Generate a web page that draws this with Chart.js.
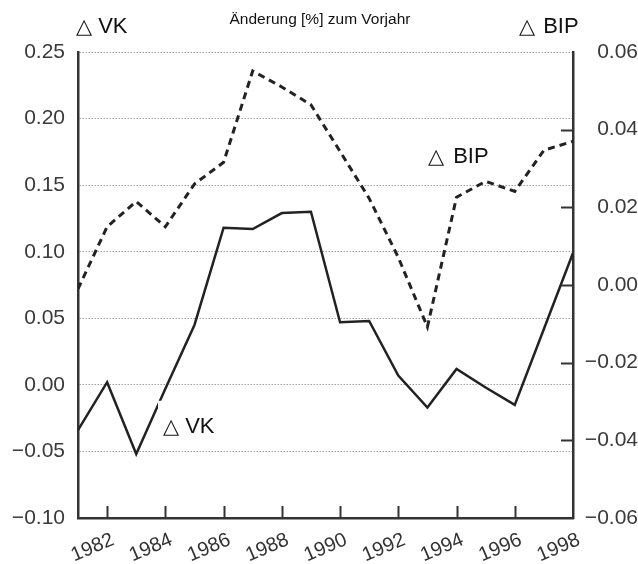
<!DOCTYPE html>
<html>
<head>
<meta charset="utf-8">
<script src="https://cdn.jsdelivr.net/npm/chart.js@4"></script>
<style>
  html, body { margin: 0; padding: 0; background: #fff; }
  #wrap { width: 638px; height: 564px; }
</style>
</head>
<body>
<div id="wrap"><canvas id="chart" width="638" height="564"></canvas></div>
<script>
// Years on the x axis
const years = [1981, 1982, 1983, 1984, 1985, 1986, 1987, 1988, 1989,
               1990, 1991, 1992, 1993, 1994, 1995, 1996, 1997, 1998];

// Change in VK (left axis, solid line)
const vkChange = [-0.034, 0.002, -0.052, -0.003, 0.045, 0.118, 0.117, 0.129, 0.130,
                  0.047, 0.048, 0.007, -0.017, 0.012, -0.002, -0.015, 0.042, 0.099];

// Change in BIP (right axis, dashed line)
const bipChange = [-0.001, 0.015, 0.0215, 0.015, 0.026, 0.0316, 0.0551, 0.051, 0.0464,
                   0.0344, 0.0223, 0.0071, -0.0108, 0.0226, 0.0267, 0.0241, 0.0347, 0.037];

// Tick labels
const xTickYears = [1982, 1984, 1986, 1988, 1990, 1992, 1994, 1996, 1998];

const titleText = 'Änderung [%] zum Vorjahr';
const triangle = '\u25B3';

const FONT = '"Liberation Sans", Arial, Helvetica, sans-serif';
const axisColor = '#333';

// format numbers with a real minus sign
function fmt(v) {
    return (v < -1e-9 ? '\u2212' : '') + Math.abs(v).toFixed(2);
}

// triangle + name, e.g. "△ VK"
function deltaLabel(ctx, name, x, y, gap) {
    ctx.font = '21px "DejaVu Sans", sans-serif';
    ctx.fillText(triangle, x, y);
    const w = ctx.measureText(triangle).width;
    ctx.font = '22px ' + FONT;
    ctx.fillText(name, x + w + gap, y);
}

// Labels, white box and inner tick marks
const overlay = {
    id: 'overlay',
    afterDraw(chart) {
        const ctx = chart.ctx;
        const x = chart.scales.x;
        const yL = chart.scales.yVK;
        const yR = chart.scales.yBIP;
        const area = chart.chartArea;

        ctx.save();

        // inner ticks on the x axis
        ctx.strokeStyle = axisColor;
        ctx.lineWidth = 2;
        xTickYears.forEach(yr => {
            if (yr >= 1998) return;
            const px = Math.round(x.getPixelForValue(yr)) + 0.5;
            ctx.beginPath();
            ctx.moveTo(px, area.bottom);
            ctx.lineTo(px, area.bottom - 12);
            ctx.stroke();
        });

        // inner ticks on the right axis
        yR.ticks.forEach(t => {
            if (t.value <= yR.min + 1e-9 || t.value >= yR.max - 1e-9) return;
            const py = Math.round(yR.getPixelForValue(t.value)) + 0.5;
            ctx.beginPath();
            ctx.moveTo(area.right - 12, py);
            ctx.lineTo(area.right, py);
            ctx.stroke();
        });

        ctx.fillStyle = '#111';
        ctx.textBaseline = 'alphabetic';

        // title
        ctx.font = '15.5px ' + FONT;
        ctx.textAlign = 'center';
        ctx.fillText(titleText, 320, 24);
        ctx.textAlign = 'left';

        // header labels
        deltaLabel(ctx, 'VK', 76, 33, 6);
        deltaLabel(ctx, 'BIP', 519, 33, 8);

        // inner BIP label
        const bx = x.getPixelForValue(1993.02);
        const by = yL.getPixelForValue(0.1667);
        deltaLabel(ctx, 'BIP', bx, by, 9);

        // inner VK label on a white box
        const vx = x.getPixelForValue(1983.92);
        const vy = yL.getPixelForValue(-0.036);
        ctx.fillStyle = '#fff';
        ctx.fillRect(vx - 5, vy - 32, 62, 38);
        ctx.fillStyle = '#111';
        deltaLabel(ctx, 'VK', vx, vy, 6);

        ctx.restore();
    }
};

const ctx = document.getElementById('chart').getContext('2d');

new Chart(ctx, {
    type: 'line',
    data: {
        datasets: [{
            label: 'VK',
            data: years.map((yr, i) => ({ x: yr, y: vkChange[i] })),
            yAxisID: 'yVK',
            borderColor: '#222',
            borderWidth: 2.5,
            pointRadius: 0,
            tension: 0,
            fill: false
        }, {
            label: 'BIP',
            data: years.map((yr, i) => ({ x: yr, y: bipChange[i] })),
            yAxisID: 'yBIP',
            borderColor: '#222',
            borderWidth: 3,
            borderDash: [7, 5],
            pointRadius: 0,
            tension: 0,
            fill: false
        }]
    },
    options: {
        responsive: false,
        animation: false,
        layout: { padding: { top: 52, left: 0, right: 0, bottom: 0 } },
        plugins: {
            legend: { display: false },
            tooltip: { enabled: false },
            title: { display: false }
        },
        scales: {
            x: {
                type: 'linear',
                min: 1981,
                max: 1998,
                afterBuildTicks: scale => {
                    scale.ticks = xTickYears.map(v => ({ value: v }));
                },
                afterFit: scale => { scale.height = 46; },
                grid: { display: false, drawTicks: false },
                border: { display: true, color: axisColor, width: 2.5 },
                ticks: {
                    autoSkip: false,
                    minRotation: 23,
                    maxRotation: 23,
                    padding: 10,
                    labelOffset: 6,
                    color: '#333',
                    font: { family: FONT, size: 20 },
                    callback: v => String(v)
                }
            },
            yVK: {
                position: 'left',
                min: -0.10,
                max: 0.25,
                afterFit: scale => { scale.width = 78; },
                grid: {
                    color: '#a0a0a0',
                    lineWidth: 1,
                    drawTicks: false
                },
                border: { display: true, color: axisColor, width: 2.5, dash: [1.5, 1.5] },
                ticks: {
                    stepSize: 0.05,
                    padding: 13,
                    color: '#3a3a3a',
                    font: { family: FONT, size: 21 },
                    callback: v => fmt(v)
                }
            },
            yBIP: {
                position: 'right',
                min: -0.06,
                max: 0.06,
                afterFit: scale => { scale.width = 65; },
                grid: { drawOnChartArea: false, drawTicks: false },
                border: { display: true, color: axisColor, width: 2.5 },
                ticks: {
                    stepSize: 0.02,
                    padding: 11,
                    crossAlign: 'far',
                    color: '#3a3a3a',
                    font: { family: FONT, size: 21 },
                    callback: v => fmt(v)
                }
            }
        }
    },
    plugins: [overlay]
});
</script>
</body>
</html>
